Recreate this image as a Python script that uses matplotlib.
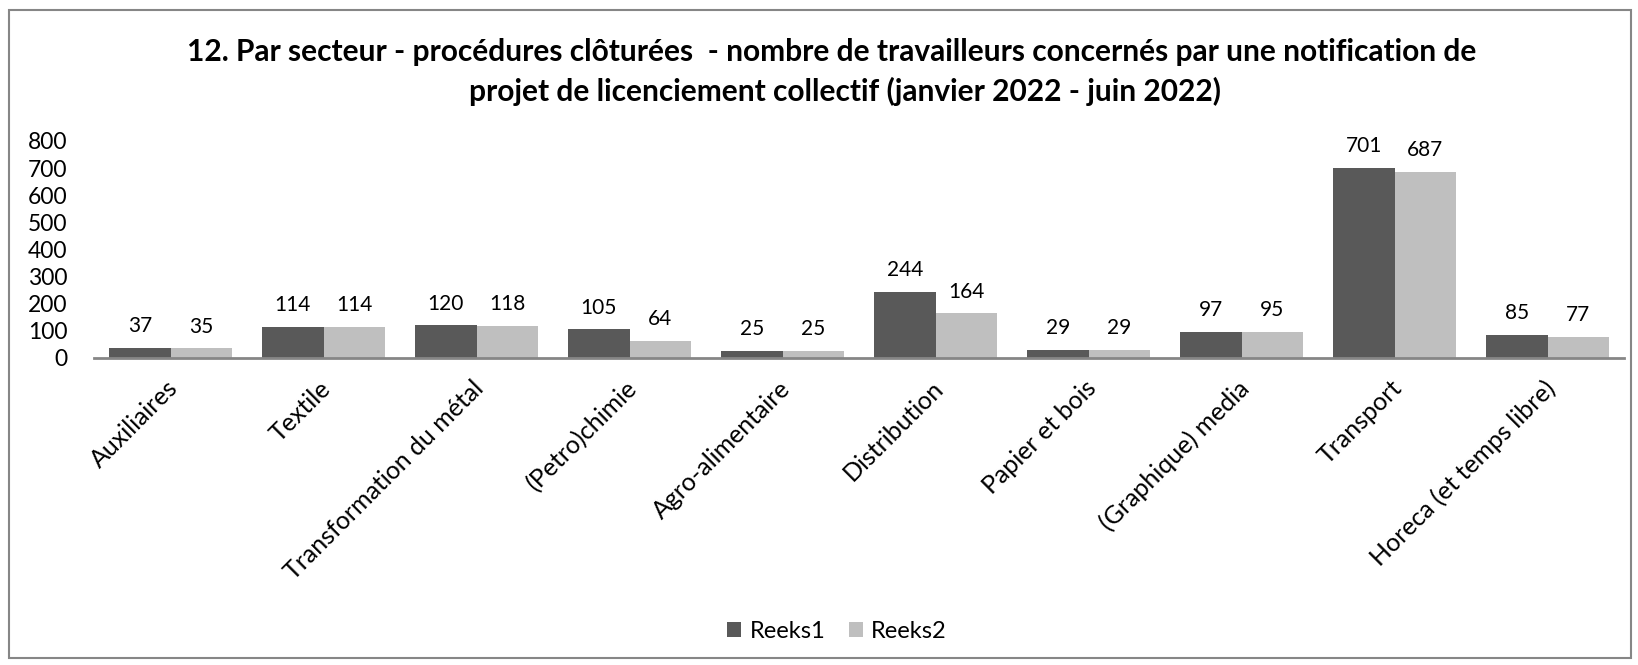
import numpy as np
import matplotlib
import matplotlib.pyplot as plt
import matplotlib.transforms as mtransforms
from matplotlib.patches import Rectangle

matplotlib.use("Agg")

plt.rcParams['font.family'] = ['Lato', 'DejaVu Sans']

# Data
categories = ["Auxiliaires", "Textile", "Transformation du métal", "(Petro)chimie",
              "Agro-alimentaire", "Distribution", "Papier et bois", "(Graphique) media",
              "Transport", "Horeca (et temps libre)"]
reeks1 = [37, 114, 120, 105, 25, 244, 29, 97, 701, 85]
reeks2 = [35, 114, 118, 64, 25, 164, 29, 95, 687, 77]
series_names = ["Reeks1", "Reeks2"]
yticks = [0, 100, 200, 300, 400, 500, 600, 700, 800]

title_line1 = "12. Par secteur - procédures clôturées  - nombre de travailleurs concernés par une notification de"
title_line2 = "projet de licenciement collectif (janvier 2022 - juin 2022)"

dark = "#595959"
light = "#bfbfbf"
axis_grey = "#868686"

fig = plt.figure(figsize=(16.38, 6.65), dpi=100)
ax = fig.add_axes([0.0574, 0.4617, 0.9341, 0.3263])

x = np.arange(len(categories))
w = 0.40
b1 = ax.bar(x - w / 2, reeks1, width=w, color=dark, label=series_names[0])
b2 = ax.bar(x + w / 2, reeks2, width=w, color=light, label=series_names[1])

for bars in (b1, b2):
    for rect in bars:
        ax.annotate(f"{int(rect.get_height())}",
                    xy=(rect.get_x() + rect.get_width() / 2, rect.get_height()),
                    xytext=(0, 8.5), textcoords="offset points",
                    ha="center", va="bottom", fontsize=15, color="black")

ax.set_xlim(-0.5, len(categories) - 0.5)
ax.set_ylim(0, 800)
ax.set_yticks(yticks)
ax.tick_params(axis="y", length=0, pad=19, labelsize=16.5)
ax.set_xticks(x)
ax.set_xticklabels(categories, rotation=45, ha="right", va="top",
                   rotation_mode="anchor", fontsize=18)
ax.tick_params(axis="x", length=0, pad=13.3)

# nudge category labels slightly left so they end just under the tick
shift = mtransforms.ScaledTranslation(-4.5 / 100, 0, fig.dpi_scale_trans)
for lbl in ax.get_xticklabels():
    lbl.set_transform(lbl.get_transform() + shift)

for side in ("left", "right", "top"):
    ax.spines[side].set_visible(False)
ax.spines["bottom"].set_color(axis_grey)
ax.spines["bottom"].set_linewidth(2)

fig.text(0.508, 0.922, title_line1, ha="center", va="center", fontsize=21.5, fontweight="bold")
fig.text(0.516, 0.862, title_line2, ha="center", va="center", fontsize=21.5, fontweight="bold")

fig.legend(handles=[b1, b2], labels=series_names, loc="center",
           bbox_to_anchor=(0.511, 0.051), ncol=2, frameon=False, fontsize=17,
           handlelength=0.6, handleheight=0.6, handletextpad=0.35, columnspacing=1.0)

# chart area border
fig.patches.append(Rectangle((0.0055, 0.011), 0.9903, 0.974, transform=fig.transFigure,
                             fill=False, edgecolor=axis_grey, linewidth=1.5))

fig.savefig("out.png", dpi=100)
plt.close(fig)
